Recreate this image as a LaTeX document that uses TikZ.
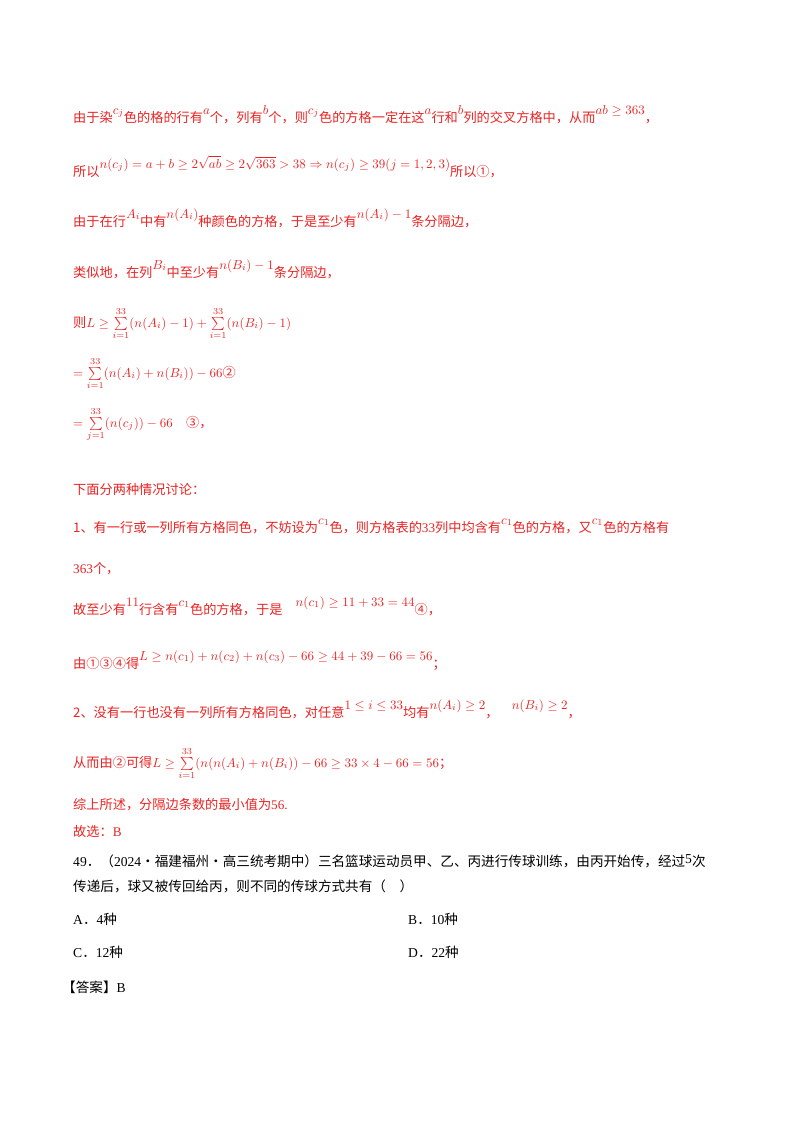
\documentclass[tikz,border=0pt]{standalone}
\usepackage{graphicx}
\usepackage{amsmath,amssymb}
\usepackage{fontspec}
\setmainfont{Liberation Serif}
\newfontfamily\cjk{Noto Sans CJK SC}
\definecolor{myred}{RGB}{235,35,35}
\newcommand{\mth}[1]{\scalebox{1.3}{\normalsize$#1$}}
\newcommand{\up}[1]{\raisebox{8pt}{\mth{#1}}}
\begin{document}
\begin{tikzpicture}[x=1pt,y=-1pt,
  rl/.style={anchor=base west,inner sep=0,text=myred,font=\fontsize{13.2}{15}\selectfont\cjk},
  bl/.style={anchor=base west,inner sep=0,text=black,font=\fontsize{13.6}{15}\selectfont\cjk}]
\useasboundingbox[fill=white] (0,0) rectangle (800,1132);
\node[rl] (l1) at (73,122) {由于染\up{c_j}色的格的行有\up{a}个，列有\up{b}个，则\up{c_j}色的方格一定在这\up{a}行和\up{b}列的交叉方格中，从而\up{ab\geq 363}，};
\node[rl] (l2) at (73,176) {所以\up{n(c_j)=a+b\geq 2\sqrt{ab}\geq 2\sqrt{363}>38\Rightarrow n(c_j)\geq 39(j=1,2,3)}所以①，};
\node[rl] (l3) at (73,226) {由于在行\up{A_i}中有\up{n(A_i)}种颜色的方格，于是至少有\up{n(A_i)-1}条分隔边，};
\node[rl] (l4) at (73,277) {类似地，在列\up{B_i}中至少有\up{n(B_i)-1}条分隔边，};
\node[rl] (l5) at (73,327) {则\mth{L\geq\sum\limits_{i=1}^{33}(n(A_i)-1)+\sum\limits_{i=1}^{33}(n(B_i)-1)}};
\node[rl] (l6) at (73,377) {\mth{=\sum\limits_{i=1}^{33}(n(A_i)+n(B_i))-66}②};
\node[rl] (l7) at (73,427) {\mth{=\sum\limits_{j=1}^{33}(n(c_j))-66}\quad ③，};
\node[rl] (l8) at (73,494) {下面分两种情况讨论：};
\node[rl] (l9) at (73,532) {1、有一行或一列所有方格同色，不妨设为\up{c_1}色，则方格表的{\rmfamily 33}列中均含有\up{c_1}色的方格，又\up{c_1}色的方格有};
\node[rl] (l10) at (73,573) {{\rmfamily 363}个，};
\node[rl] (l11) at (73,614) {故至少有\up{11}行含有\up{c_1}色的方格，于是\quad\up{n(c_1)\geq 11+33=44}④，};
\node[rl] (l12) at (73,668) {由①③④得\up{L\geq n(c_1)+n(c_2)+n(c_3)-66\geq 44+39-66=56}；};
\node[rl] (l13) at (73,717) {2、没有一行也没有一列所有方格同色，对任意\up{1\leq i\leq 33}均有\up{n(A_i)\geq 2}，\quad\up{n(B_i)\geq 2}，};
\node[rl] (l14) at (73,767) {从而由②可得\mth{L\geq\sum\limits_{i=1}^{33}(n(n(A_i)+n(B_i))-66\geq 33\times 4-66=56}；};
\node[rl] (l15) at (73,809) {综上所述，分隔边条数的最小值为{\rmfamily 56.}};
\node[rl] (l16) at (73,836) {故选：{\rmfamily B}};
\node[bl] (l17) at (73,866) {{\rmfamily 49}．（{\rmfamily 2024}·福建福州·高三统考期中）三名篮球运动员甲、乙、丙进行传球训练，由丙开始传，经过\raisebox{3pt}{\rmfamily 5}次};
\node[bl] (l18) at (73,891) {传递后，球又被传回给丙，则不同的传球方式共有（\quad）};
\node[bl] (a) at (73,924) {{\rmfamily A}．{\rmfamily 4}种};
\node[bl] (b) at (408,924) {{\rmfamily B}．{\rmfamily 10}种};
\node[bl] (c) at (73,957) {{\rmfamily C}．{\rmfamily 12}种};
\node[bl] (d) at (408,957) {{\rmfamily D}．{\rmfamily 22}种};
\node[bl] (ans) at (62,992) {【答案】{\rmfamily B}};
\end{tikzpicture}
\end{document}
